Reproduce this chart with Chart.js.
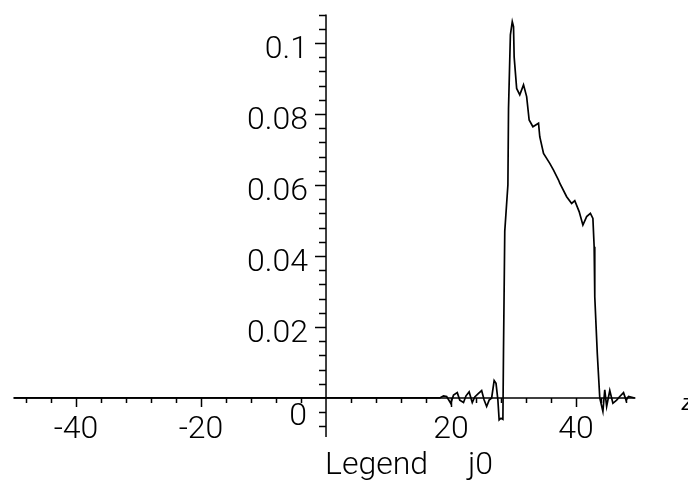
<!DOCTYPE html>
<html>
<head>
<meta charset="utf-8">
<script src="https://cdn.jsdelivr.net/npm/chart.js@4/dist/chart.umd.min.js"></script>
<style>
  html, body { margin: 0; padding: 0; background: #ffffff; }
  #wrap { position: relative; width: 688px; height: 480px; }
</style>
</head>
<body>
<div id="wrap"><canvas id="c" width="688" height="480"></canvas></div>
<script>
// ---- data ----
const xValues = [-50, 18.2, 18.8, 19.3, 19.95, 20.4, 21.0, 21.4, 22.0, 22.4, 22.9, 23.4, 23.8, 24.4, 24.9, 25.3, 25.7, 26.1, 26.5, 26.9, 27.2, 27.5, 27.7, 28.0, 28.3, 28.4, 28.6, 29.1, 29.2, 29.5, 29.8, 30.0, 30.1, 30.5, 31.0, 31.6, 32.1, 32.5, 33.1, 34.0, 34.2, 34.8, 35.8, 36.4, 37.2, 37.4, 38.5, 39.3, 39.8, 40.5, 41.1, 41.7, 42.3, 42.7, 42.9, 43.0, 43.4, 43.8, 44.3, 44.6, 44.9, 45.4, 45.9, 46.5, 47.0, 47.6, 48.0, 48.4, 49.4];
const yValues = [0, 0, 0.0006, 0.0004, -0.0015, 0.0008, 0.0015, -0.0006, -0.0013, 0.0006, 0.0017, -0.0013, 0.0003, 0.0013, 0.0021, -0.0006, -0.0024, -0.0006, 0.0, 0.0049, 0.0041, -0.0006, -0.0062, -0.0057, -0.006, 0.014, 0.047, 0.060, 0.0816, 0.1023, 0.106, 0.1046, 0.0961, 0.0872, 0.0854, 0.0882, 0.0849, 0.0783, 0.0764, 0.0774, 0.0736, 0.0689, 0.0661, 0.0642, 0.0614, 0.0605, 0.0567, 0.0548, 0.0556, 0.0525, 0.0487, 0.0511, 0.052, 0.0506, 0.0426, 0.0285, 0.0126, 0.0, -0.0038, 0.0023, -0.0024, 0.0021, -0.0015, -0.0006, 0.0004, 0.0015, -0.0006, 0.0004, 0];

const xTickValues = [-40, -20, 20, 40];
const xTickLabels = ['-40', '-20', '20', '40'];
const yTickValues = [0.02, 0.04, 0.06, 0.08, 0.1];
const yTickLabels = ['0.02', '0.04', '0.06', '0.08', '0.1'];
const originLabel = '0';
const xTitleParts = ['Legend', 'j0'];
const sideLabel = 'z';
const xRange = [-50, 49.5];
const yRange = [-0.011, 0.108];
const xMinorStep = 4, xMajorStep = 20;
const yMinorStep = 0.004, yMajorStep = 0.02;

const points = xValues.map((x, i) => ({ x: x, y: yValues[i] }));

const FONT = '300 32px Roboto, "Liberation Sans", Arial, sans-serif';

const axesPlugin = {
  id: 'crossAxes',
  afterDatasetsDraw(chart) {
    const ctx = chart.ctx;
    const xs = chart.scales.x, ys = chart.scales.y;
    const ox = xs.getPixelForValue(0), oy = ys.getPixelForValue(0);
    ctx.save();
    ctx.strokeStyle = '#000';
    ctx.fillStyle = '#000';
    ctx.lineWidth = 1.5;
    // axis lines
    ctx.beginPath();
    ctx.moveTo(xs.left, oy); ctx.lineTo(xs.right, oy);
    ctx.moveTo(ox, ys.top); ctx.lineTo(ox, ys.bottom);
    ctx.stroke();
    // x ticks (below axis)
    ctx.beginPath();
    for (let v = -48; v <= 48; v += xMinorStep) {
      if (v === 0) continue;
      const px = Math.round(xs.getPixelForValue(v)) + 0.5;
      const len = (v % xMajorStep === 0) ? 9 : 5;
      ctx.moveTo(px, oy); ctx.lineTo(px, oy + len);
    }
    // y ticks (left of axis)
    const n0 = Math.ceil(yRange[0] / yMinorStep - 1e-9);
    const n1 = Math.floor(yRange[1] / yMinorStep + 1e-9);
    for (let k = n0; k <= n1; k++) {
      if (k === 0) continue;
      const v = k * yMinorStep;
      const py = Math.round(ys.getPixelForValue(v)) + 0.5;
      const len = (k % 5 === 0) ? 11 : 7;
      ctx.moveTo(ox, py); ctx.lineTo(ox - len, py);
    }
    ctx.stroke();
    // labels
    ctx.font = FONT;
    ctx.textBaseline = 'alphabetic';
    ctx.textAlign = 'center';
    xTickValues.forEach((v, i) => {
      ctx.fillText(xTickLabels[i], xs.getPixelForValue(v), oy + 40);
    });
    ctx.textAlign = 'right';
    yTickValues.forEach((v, i) => {
      ctx.fillText(yTickLabels[i], ox - 18, ys.getPixelForValue(v) + 15);
    });
    ctx.fillText(originLabel, ox - 19, oy + 27);
    // axis title
    ctx.textAlign = 'left';
    ctx.fillText(xTitleParts[0], ox - 1, oy + 76);
    ctx.fillText(xTitleParts[1], ox + 142, oy + 76);
    // side label
    ctx.font = 'italic 22px "Liberation Sans", Arial, sans-serif';
    ctx.fillText(sideLabel, xs.right + 46, oy + 12);
    ctx.restore();
  }
};

new Chart(document.getElementById('c'), {
  type: 'line',
  data: {
    datasets: [{
      data: points,
      borderColor: '#000',
      borderWidth: 1.7,
      pointRadius: 0,
      fill: false,
      tension: 0
    }]
  },
  options: {
    responsive: false,
    animation: false,
    events: [],
    layout: { padding: { left: 13.5, right: 52.6, top: 14.6, bottom: 43 } },
    plugins: { legend: { display: false }, tooltip: { enabled: false } },
    scales: {
      x: { type: 'linear', min: xRange[0], max: xRange[1], display: false },
      y: { type: 'linear', min: yRange[0], max: yRange[1], display: false }
    }
  },
  plugins: [axesPlugin]
});
</script>
</body>
</html>
